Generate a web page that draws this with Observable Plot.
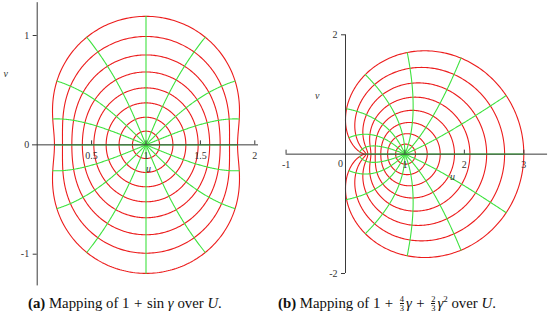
<!DOCTYPE html>
<html>
<head>
<meta charset="utf-8">
<script src="https://cdn.jsdelivr.net/npm/d3@7"></script>
<script src="https://cdn.jsdelivr.net/npm/@observablehq/plot@0.6"></script>
<style>
  html, body { margin: 0; padding: 0; background: #fff; }
  #wrap { position: relative; width: 550px; height: 318px; overflow: hidden; }
  #pa { position: absolute; left: 0; top: 0; }
  #pb { position: absolute; left: 275px; top: 0; }
  .cap { position: absolute; top: 294px; font-family: "Liberation Serif", serif; font-size: 14.8px; color: #111; white-space: nowrap; line-height: 18px; }
  .op { margin: 0 4.5px; }
  .frac { display: inline-block; font-size: 8.5px; line-height: 8px; vertical-align: middle; text-align: center; margin: 0 2px; position: relative; top: -1px; }
  .frac > span { display: block; }
  .frac > span:first-child { border-bottom: 0.7px solid #111; }
  svg text { font-family: "Liberation Serif", serif; }
</style>
</head>
<body>
<div id="wrap">
  <div id="pa"></div>
  <div id="pb"></div>
  <div class="cap" style="left:28px"><b>(a)</b> Mapping of 1<span class="op">+</span>sin <i>γ</i> over <i>U</i>.</div>
  <div class="cap" style="left:278px"><b>(b)</b> Mapping of 1<span class="op">+</span><span class="frac"><span>4</span><span>3</span></span><i>γ</i><span class="op">+</span><span class="frac"><span>2</span><span>3</span></span><i>γ</i><sup style="font-size:9px;line-height:0">2</sup> over <i>U</i>.</div>
</div>
<script>
// ---- data ----
const radii = [0.125, 0.25, 0.375, 0.5, 0.625, 0.75, 0.875, 1];          // circles |γ| = r
const rayAnglesDeg = [0, 22.5, 45, 67.5, 90, 112.5, 135, 157.5, 180, 202.5, 225, 247.5, 270, 292.5, 315, 337.5];
const sinOffset = 1;                                                     // (a) f(γ) = 1 + sin γ
const polyCoeffs = [1, 4 / 3, 2 / 3];                                    // (b) f(γ) = 1 + 4/3 γ + 2/3 γ²
const aUTicks = [0.5, 1, 1.5, 2];
const aVTicks = [-1, 0, 1];
const bUTicks = [-1, 1, 2, 3];
const bVTicks = [-2, 2];
const bZeroLabel = [0];

const RED = "#ec1c1c", GREEN = "#3fe23f", AX = "#3a3a3a";

function fA(x, y) { return [sinOffset + Math.sin(x) * Math.cosh(y), Math.cos(x) * Math.sinh(y)]; }
function fB(x, y) {
  let re = 0, im = 0, pr = 1, pi = 0;
  for (const c of polyCoeffs) { re += c * pr; im += c * pi; const t = pr * x - pi * y; pi = pr * y + pi * x; pr = t; }
  return [re, im];
}
function circles(f) {
  const out = [];
  for (const r of radii) {
    const n = 480;
    for (let k = 0; k <= n; k++) {
      const t = 2 * Math.PI * k / n;
      const [u, v] = f(r * Math.cos(t), r * Math.sin(t));
      out.push({r, u, v});
    }
  }
  return out;
}
function rays(f) {
  const out = [];
  for (const a of rayAnglesDeg) {
    const t = a * Math.PI / 180, n = 120;
    for (let k = 0; k <= n; k++) {
      const s = k / n;
      const [u, v] = f(s * Math.cos(t), s * Math.sin(t));
      out.push({a, u, v});
    }
  }
  return out;
}

function panel(opts) {
  const {f, width, height, mL, mR, mT, mB, xDom, yDom, xAxisExt, yAxisExt, uTicks, vTicks, extra, uLab, vLab} = opts;
  const pxX = (width - mL - mR) / (xDom[1] - xDom[0]);
  const pxY = (height - mT - mB) / (yDom[1] - yDom[0]);
  const tkY = 4 / pxY, tkX = 4 / pxX;
  return Plot.plot({
    width, height, marginLeft: mL, marginRight: mR, marginTop: mT, marginBottom: mB,
    x: {domain: xDom, axis: null}, y: {domain: yDom, axis: null},
    style: {background: "transparent"},
    marks: [
      Plot.line(circles(f), {x: "u", y: "v", z: "r", stroke: RED, strokeWidth: 1.1}),
      Plot.line(rays(f), {x: "u", y: "v", z: "a", stroke: GREEN, strokeWidth: 1.1}),
      Plot.ruleY([0], {x1: xAxisExt[0], x2: xAxisExt[1], stroke: AX, strokeWidth: 1}),
      Plot.ruleX([0], {y1: yAxisExt[0], y2: yAxisExt[1], stroke: AX, strokeWidth: 1}),
      Plot.ruleX(uTicks, {x: d => d, y1: 0, y2: tkY, stroke: AX}),
      Plot.ruleY(vTicks.filter(d => d !== 0), {y: d => d, x1: -tkX, x2: 0, stroke: AX}),
      Plot.text(uTicks, {x: d => d, y: 0, dy: 11, text: d => String(d), fontSize: 10, fill: "#333"}),
      Plot.text(vTicks, {x: 0, y: d => d, dx: -8, textAnchor: "end", text: d => String(d), fontSize: 10, fill: "#333"}),
      ...(extra || []),
      Plot.text([uLab], {x: "x", y: "y", text: () => "u", fontSize: 10, fontStyle: "italic", fill: "#333"}),
      Plot.text([vLab], {x: "x", y: "y", text: () => "v", fontSize: 10, fontStyle: "italic", fill: "#333"})
    ]
  });
}

document.getElementById("pa").appendChild(panel({
  f: fA, width: 275, height: 290, mL: 36.7, mR: 20.7, mT: 35, mB: 36.3,
  xDom: [0, 2], yDom: [-1, 1], xAxisExt: [-0.043, 2.034], yAxisExt: [-1.29, 1.30],
  uTicks: aUTicks, vTicks: aVTicks,
  uLab: {x: 1.023, y: -0.217}, vLab: {x: -0.29, y: 0.65}
}));

document.getElementById("pb").appendChild(panel({
  f: fB, width: 275, height: 290, mL: 70, mR: 26.7, mT: 34.3, mB: 17,
  xDom: [0, 3], yDom: [-2, 2], xAxisExt: [-1, 3.4], yAxisExt: [-2, 2],
  uTicks: bUTicks, vTicks: bVTicks,
  extra: [Plot.text(bZeroLabel, {x: d => d, y: 0, dy: 10, dx: -5, text: d => String(d), fontSize: 10, fill: "#333"})],
  uLab: {x: 1.80, y: -0.385}, vLab: {x: -0.476, y: 0.98}
}));
</script>
</body>
</html>
